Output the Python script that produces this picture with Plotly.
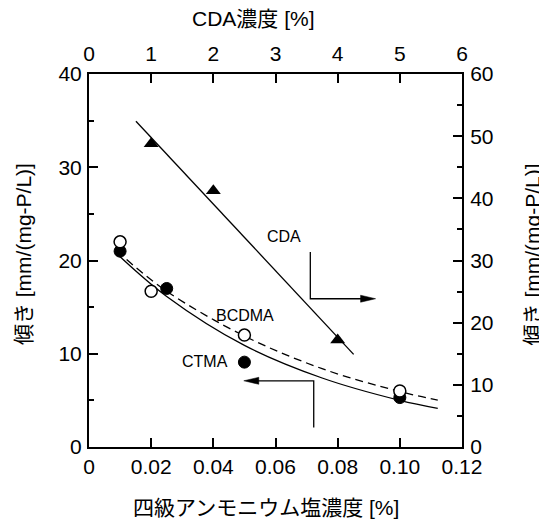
import plotly.graph_objects as go

# ---- data ----
cda_x = [1, 2, 4]                      # CDA concentration [%] (top axis)
cda_y = [48.8, 41.2, 17.2]             # slope (right axis)
cda_fit_x = [0.755, 4.257]
cda_fit_y = [52.4, 14.9]

ctma_x = [0.01, 0.025, 0.05, 0.10]     # quaternary ammonium conc. [%]
ctma_y = [21.0, 17.0, 9.1, 5.3]
ctma_fit_x = [0.0094, 0.025, 0.05, 0.075, 0.10, 0.1122]
ctma_fit_y = [20.6, 16.15, 10.9, 7.4, 5.0, 4.14]

bcdma_x = [0.01, 0.02, 0.05, 0.10]
bcdma_y = [22.0, 16.7, 12.0, 6.0]
bcdma_fit_x = [0.0121, 0.025, 0.05, 0.075, 0.10, 0.1122]
bcdma_fit_y = [20.1, 16.7, 11.9, 8.4, 5.95, 5.03]

bottom_ticks = [0, 0.02, 0.04, 0.06, 0.08, 0.10, 0.12]
bottom_labels = ["0", "0.02", "0.04", "0.06", "0.08", "0.10", "0.12"]

FONT = "Liberation Sans, Arial, Noto Sans CJK JP, sans-serif"
TICKF = dict(family=FONT, size=21, color="black")
TITLEF = dict(family=FONT, size=21, color="black")

# page body adds an 8px margin, so the figure is drawn 8px smaller / shifted
OFF = 8
W, H = 547 - OFF, 526 - OFF
PL, PT, PW, PH = 89 - OFF, 74 - OFF, 373.5, 373

def px(xp):
    return (xp - OFF - PL) / PW

def py(yp):
    return (PT + PH - (yp - OFF)) / PH

fig = go.Figure()

# fit curves
fig.add_trace(go.Scatter(x=ctma_fit_x, y=ctma_fit_y, mode="lines",
                         line=dict(color="black", width=1.3, shape="spline"),
                         xaxis="x", yaxis="y", hoverinfo="skip"))
fig.add_trace(go.Scatter(x=bcdma_fit_x, y=bcdma_fit_y, mode="lines",
                         line=dict(color="black", width=1.3, shape="spline", dash="8px,5px"),
                         xaxis="x", yaxis="y", hoverinfo="skip"))
fig.add_trace(go.Scatter(x=cda_fit_x, y=cda_fit_y, mode="lines",
                         line=dict(color="black", width=1.3),
                         xaxis="x2", yaxis="y2", hoverinfo="skip"))

# markers
fig.add_trace(go.Scatter(x=ctma_x, y=ctma_y, mode="markers", name="CTMA",
                         marker=dict(symbol="circle", size=12, color="black",
                                     line=dict(color="black", width=1)),
                         xaxis="x", yaxis="y"))
fig.add_trace(go.Scatter(x=bcdma_x, y=bcdma_y, mode="markers", name="BCDMA",
                         marker=dict(symbol="circle", size=12, color="white",
                                     line=dict(color="black", width=1.5)),
                         xaxis="x", yaxis="y"))
fig.add_trace(go.Scatter(x=cda_x, y=cda_y, mode="markers", name="CDA",
                         marker=dict(symbol="triangle-up", size=13, color="black",
                                     line=dict(color="black", width=0)),
                         xaxis="x2", yaxis="y2"))

axis_common = dict(showline=True, linecolor="black", linewidth=2,
                   ticks="inside", ticklen=9, tickwidth=1.5, tickcolor="black",
                   showgrid=False, zeroline=False, tickfont=TICKF)

fig.update_layout(
    width=W, height=H,
    margin=dict(l=PL, r=W - PL - PW, t=PT, b=H - PT - PH, pad=0),
    paper_bgcolor="white", plot_bgcolor="white",
    showlegend=False,
    xaxis=dict(range=[0, 0.12], tickvals=bottom_ticks, ticktext=bottom_labels,
               side="bottom", anchor="y", **axis_common),
    xaxis2=dict(range=[0, 6], dtick=1, tick0=0, side="top", overlaying="x",
                anchor="y", ticklabelstandoff=3, **axis_common),
    yaxis=dict(range=[0, 40], dtick=10, tick0=0, side="left", anchor="x",
               ticklabelstandoff=1,
               minor=dict(ticks="inside", dtick=5, ticklen=5, tickwidth=1.5,
                          tickcolor="black"),
               **axis_common),
    yaxis2=dict(range=[0, 60], dtick=10, tick0=0, side="right", overlaying="y",
                anchor="x", ticklabelstandoff=2,
                minor=dict(ticks="inside", dtick=5, ticklen=5, tickwidth=1.5,
                           tickcolor="black"),
                **axis_common),
)

# axis titles as annotations (positions given in reference page pixels)
fig.add_annotation(text="四級アンモニウム塩濃度 [%]", xref="paper", yref="paper",
                   x=px(266.7), y=py(508), showarrow=False,
                   xanchor="center", yanchor="middle", font=TITLEF)
fig.add_annotation(text="CDA濃度 [%]", xref="paper", yref="paper",
                   x=px(254), y=py(19), showarrow=False,
                   xanchor="center", yanchor="middle", font=TITLEF)
fig.add_annotation(text="傾き [mm/(mg-P/L)]", xref="paper", yref="paper",
                   x=px(23), y=py(254), showarrow=False,
                   textangle=-90, xanchor="center", yanchor="middle", font=TITLEF)
fig.add_annotation(text="傾き [mm/(mg-P/L)]", xref="paper", yref="paper",
                   x=px(533), y=py(254), showarrow=False,
                   textangle=-90, xanchor="center", yanchor="middle", font=TITLEF)

# series labels
LABF = dict(family=FONT, size=16, color="black")
fig.add_annotation(text="CDA", x=0.0627, y=22.6, xref="x", yref="y",
                   showarrow=False, font=LABF)
fig.add_annotation(text="BCDMA", x=0.0501, y=14.1, xref="x", yref="y",
                   showarrow=False, font=LABF)
fig.add_annotation(text="CTMA", x=0.0373, y=9.13, xref="x", yref="y",
                   showarrow=False, font=LABF)

# indicator arrows (right -> right axis for CDA, left -> left axis for CTMA/BCDMA)
fig.add_shape(type="path", xref="x", yref="y",
              path="M 0.0712,20.9 L 0.0712,15.9 L 0.0905,15.9",
              line=dict(color="black", width=1.3))
fig.add_shape(type="path", xref="x", yref="y", xsizemode="pixel", ysizemode="pixel",
              xanchor=0.0922, yanchor=15.9,
              path="M 0,0 L -15,3.5 L -15,-3.5 Z",
              line=dict(color="black", width=0.5), fillcolor="black")
fig.add_shape(type="path", xref="x", yref="y",
              path="M 0.0723,2.1 L 0.0723,7.1 L 0.0515,7.1",
              line=dict(color="black", width=1.3))
fig.add_shape(type="path", xref="x", yref="y", xsizemode="pixel", ysizemode="pixel",
              xanchor=0.0498, yanchor=7.1,
              path="M 0,0 L 15,3.5 L 15,-3.5 Z",
              line=dict(color="black", width=0.5), fillcolor="black")

fig.write_html("out.html")
